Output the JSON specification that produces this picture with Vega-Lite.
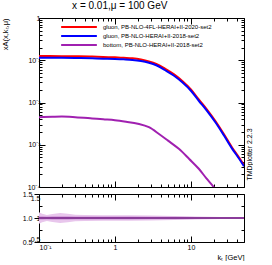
{
  "$schema": "https://vega.github.io/schema/vega-lite/v6.json",
  "padding": {"left": 0, "top": 0, "right": 0, "bottom": 0},
  "background": "white",
  "title": {"text": "x = 0.01,μ = 100 GeV", "font": "Liberation Sans", "fontSize": 10, "fontWeight": "normal", "anchor": "middle", "offset": 3, "dx": -7, "color": "black"},
  "config": {
    "font": "Liberation Sans",
    "view": {"stroke": "black", "strokeWidth": 1},
    "axis": {"domain": false, "grid": false, "tickColor": "black", "labelColor": "black", "labelFont": "Liberation Sans", "labelFontSize": 7, "titleFont": "Liberation Sans", "titleFontWeight": "normal", "titleColor": "black", "titleFontSize": 7.5}
  },
  "datasets": {
    "curves": [
      {"s": "gluon, PB-NLO-4FL-HERAI+II-2020-set2", "k": 0.1, "v": 0.126},
      {"s": "gluon, PB-NLO-4FL-HERAI+II-2020-set2", "k": 0.2, "v": 0.125},
      {"s": "gluon, PB-NLO-4FL-HERAI+II-2020-set2", "k": 0.3, "v": 0.124},
      {"s": "gluon, PB-NLO-4FL-HERAI+II-2020-set2", "k": 0.5, "v": 0.122},
      {"s": "gluon, PB-NLO-4FL-HERAI+II-2020-set2", "k": 0.7, "v": 0.119},
      {"s": "gluon, PB-NLO-4FL-HERAI+II-2020-set2", "k": 1.0, "v": 0.117},
      {"s": "gluon, PB-NLO-4FL-HERAI+II-2020-set2", "k": 1.3, "v": 0.114},
      {"s": "gluon, PB-NLO-4FL-HERAI+II-2020-set2", "k": 1.7, "v": 0.111},
      {"s": "gluon, PB-NLO-4FL-HERAI+II-2020-set2", "k": 2.2, "v": 0.104},
      {"s": "gluon, PB-NLO-4FL-HERAI+II-2020-set2", "k": 2.8, "v": 0.094},
      {"s": "gluon, PB-NLO-4FL-HERAI+II-2020-set2", "k": 3.5, "v": 0.082},
      {"s": "gluon, PB-NLO-4FL-HERAI+II-2020-set2", "k": 4.6, "v": 0.0625},
      {"s": "gluon, PB-NLO-4FL-HERAI+II-2020-set2", "k": 6.0, "v": 0.0463},
      {"s": "gluon, PB-NLO-4FL-HERAI+II-2020-set2", "k": 7.7, "v": 0.0323},
      {"s": "gluon, PB-NLO-4FL-HERAI+II-2020-set2", "k": 10, "v": 0.0204},
      {"s": "gluon, PB-NLO-4FL-HERAI+II-2020-set2", "k": 12.7, "v": 0.0118},
      {"s": "gluon, PB-NLO-4FL-HERAI+II-2020-set2", "k": 16, "v": 0.0071},
      {"s": "gluon, PB-NLO-4FL-HERAI+II-2020-set2", "k": 21, "v": 0.00365},
      {"s": "gluon, PB-NLO-4FL-HERAI+II-2020-set2", "k": 27, "v": 0.00182},
      {"s": "gluon, PB-NLO-4FL-HERAI+II-2020-set2", "k": 35, "v": 0.00085},
      {"s": "gluon, PB-NLO-4FL-HERAI+II-2020-set2", "k": 42, "v": 0.00053},
      {"s": "gluon, PB-NLO-4FL-HERAI+II-2020-set2", "k": 50, "v": 0.00033},
      {"s": "gluon, PB-NLO-HERAI+II-2018-set2", "k": 0.1, "v": 0.115},
      {"s": "gluon, PB-NLO-HERAI+II-2018-set2", "k": 0.2, "v": 0.114},
      {"s": "gluon, PB-NLO-HERAI+II-2018-set2", "k": 0.3, "v": 0.113},
      {"s": "gluon, PB-NLO-HERAI+II-2018-set2", "k": 0.5, "v": 0.111},
      {"s": "gluon, PB-NLO-HERAI+II-2018-set2", "k": 0.7, "v": 0.109},
      {"s": "gluon, PB-NLO-HERAI+II-2018-set2", "k": 1.0, "v": 0.107},
      {"s": "gluon, PB-NLO-HERAI+II-2018-set2", "k": 1.3, "v": 0.105},
      {"s": "gluon, PB-NLO-HERAI+II-2018-set2", "k": 1.7, "v": 0.102},
      {"s": "gluon, PB-NLO-HERAI+II-2018-set2", "k": 2.2, "v": 0.096},
      {"s": "gluon, PB-NLO-HERAI+II-2018-set2", "k": 2.8, "v": 0.087},
      {"s": "gluon, PB-NLO-HERAI+II-2018-set2", "k": 3.5, "v": 0.076},
      {"s": "gluon, PB-NLO-HERAI+II-2018-set2", "k": 4.6, "v": 0.058},
      {"s": "gluon, PB-NLO-HERAI+II-2018-set2", "k": 6.0, "v": 0.043},
      {"s": "gluon, PB-NLO-HERAI+II-2018-set2", "k": 7.7, "v": 0.030},
      {"s": "gluon, PB-NLO-HERAI+II-2018-set2", "k": 10, "v": 0.019},
      {"s": "gluon, PB-NLO-HERAI+II-2018-set2", "k": 12.7, "v": 0.011},
      {"s": "gluon, PB-NLO-HERAI+II-2018-set2", "k": 16, "v": 0.0066},
      {"s": "gluon, PB-NLO-HERAI+II-2018-set2", "k": 21, "v": 0.0034},
      {"s": "gluon, PB-NLO-HERAI+II-2018-set2", "k": 27, "v": 0.0017},
      {"s": "gluon, PB-NLO-HERAI+II-2018-set2", "k": 35, "v": 0.0008},
      {"s": "gluon, PB-NLO-HERAI+II-2018-set2", "k": 42, "v": 0.0005},
      {"s": "gluon, PB-NLO-HERAI+II-2018-set2", "k": 50, "v": 0.00031},
      {"s": "bottom, PB-NLO-HERAI+II-2018-set2", "k": 0.1, "v": 0.0045},
      {"s": "bottom, PB-NLO-HERAI+II-2018-set2", "k": 0.15, "v": 0.0046},
      {"s": "bottom, PB-NLO-HERAI+II-2018-set2", "k": 0.2, "v": 0.00465},
      {"s": "bottom, PB-NLO-HERAI+II-2018-set2", "k": 0.3, "v": 0.0045},
      {"s": "bottom, PB-NLO-HERAI+II-2018-set2", "k": 0.5, "v": 0.0042},
      {"s": "bottom, PB-NLO-HERAI+II-2018-set2", "k": 0.7, "v": 0.004},
      {"s": "bottom, PB-NLO-HERAI+II-2018-set2", "k": 1.0, "v": 0.0038},
      {"s": "bottom, PB-NLO-HERAI+II-2018-set2", "k": 1.4, "v": 0.0035},
      {"s": "bottom, PB-NLO-HERAI+II-2018-set2", "k": 2.0, "v": 0.00315},
      {"s": "bottom, PB-NLO-HERAI+II-2018-set2", "k": 2.8, "v": 0.0026},
      {"s": "bottom, PB-NLO-HERAI+II-2018-set2", "k": 3.8, "v": 0.0018},
      {"s": "bottom, PB-NLO-HERAI+II-2018-set2", "k": 5.0, "v": 0.00125},
      {"s": "bottom, PB-NLO-HERAI+II-2018-set2", "k": 7.0, "v": 0.00079},
      {"s": "bottom, PB-NLO-HERAI+II-2018-set2", "k": 9.5, "v": 0.00046},
      {"s": "bottom, PB-NLO-HERAI+II-2018-set2", "k": 12.7, "v": 0.00027},
      {"s": "bottom, PB-NLO-HERAI+II-2018-set2", "k": 16, "v": 0.00016},
      {"s": "bottom, PB-NLO-HERAI+II-2018-set2", "k": 19.5, "v": 0.000105},
      {"s": "bottom, PB-NLO-HERAI+II-2018-set2", "k": 23, "v": 0.00007}
    ],
    "band": [
      {"k": 0.1, "lo": 0.88, "hi": 1.12, "lo2": 0.965, "hi2": 1.035},
      {"k": 0.11, "lo": 0.91, "hi": 1.09, "lo2": 0.965, "hi2": 1.035},
      {"k": 0.127, "lo": 0.935, "hi": 1.065, "lo2": 0.967, "hi2": 1.033},
      {"k": 0.15, "lo": 0.915, "hi": 1.085, "lo2": 0.965, "hi2": 1.035},
      {"k": 0.19, "lo": 0.895, "hi": 1.105, "lo2": 0.963, "hi2": 1.037},
      {"k": 0.24, "lo": 0.91, "hi": 1.09, "lo2": 0.965, "hi2": 1.035},
      {"k": 0.3, "lo": 0.93, "hi": 1.07, "lo2": 0.967, "hi2": 1.033},
      {"k": 0.4, "lo": 0.94, "hi": 1.06, "lo2": 0.968, "hi2": 1.032},
      {"k": 0.7, "lo": 0.943, "hi": 1.057, "lo2": 0.969, "hi2": 1.031},
      {"k": 1.5, "lo": 0.945, "hi": 1.055, "lo2": 0.97, "hi2": 1.03},
      {"k": 3, "lo": 0.95, "hi": 1.05, "lo2": 0.972, "hi2": 1.028},
      {"k": 6, "lo": 0.96, "hi": 1.04, "lo2": 0.976, "hi2": 1.024},
      {"k": 12, "lo": 0.97, "hi": 1.03, "lo2": 0.981, "hi2": 1.019},
      {"k": 25, "lo": 0.978, "hi": 1.022, "lo2": 0.986, "hi2": 1.014},
      {"k": 50, "lo": 0.983, "hi": 1.017, "lo2": 0.989, "hi2": 1.011}
    ]
  },
  "vconcat": [
    {
      "width": 205,
      "height": 169,
      "data": {"name": "curves"},
      "resolve": {"axis": {"x": "independent", "y": "independent"}},
      "layer": [
        {
          "mark": {"type": "line", "clip": true, "interpolate": "monotone"},
          "encoding": {
            "x": {"field": "k", "type": "quantitative", "scale": {"type": "log", "domain": [0.1, 50], "nice": false},
              "axis": {"orient": "bottom", "title": null, "labels": false, "values": [0.1,0.2,0.3,0.4,0.5,0.6,0.7,0.8,0.9,1,2,3,4,5,6,7,8,9,10,20,30,40,50],
                "tickSize": {"condition": {"test": "indexof([0.1,1,10], datum.value) >= 0", "value": -6}, "value": -3}}},
            "y": {"field": "v", "type": "quantitative", "scale": {"type": "log", "domain": [0.0001, 1], "nice": false},
              "axis": {"orient": "left", "title": "xA(x,kₜ,μ)", "titleAnchor": "end", "titlePadding": 6, "minExtent": 24, "maxExtent": 24,
                "values": [0.0001,0.0002,0.0003,0.0004,0.0005,0.0006,0.0007,0.0008,0.0009,0.001,0.002,0.003,0.004,0.005,0.006,0.007,0.008,0.009,0.01,0.02,0.03,0.04,0.05,0.06,0.07,0.08,0.09,0.1,0.2,0.3,0.4,0.5,0.6,0.7,0.8,0.9,1],
                "labelExpr": "datum.value==1?'1':datum.value==0.1?'10⁻¹':datum.value==0.01?'10⁻²':datum.value==0.001?'10⁻³':datum.value==0.0001?'10⁻⁴':''",
                "labelPadding": 5,
                "tickSize": {"condition": {"test": "indexof([1,0.1,0.01,0.001,0.0001], datum.value) >= 0", "value": -6}, "value": -3}}},
            "color": {"field": "s", "type": "nominal",
              "scale": {"domain": ["gluon, PB-NLO-4FL-HERAI+II-2020-set2", "gluon, PB-NLO-HERAI+II-2018-set2", "bottom, PB-NLO-HERAI+II-2018-set2"], "range": ["#ff0000", "#0000ff", "#a020b0"]},
              "legend": {"orient": "none", "legendX": 35, "legendY": 4, "title": null, "symbolType": "M-5,0H5", "symbolSize": 51, "symbolStrokeWidth": 2.5, "labelFontSize": 6, "labelFont": "Liberation Sans", "labelColor": "black", "rowPadding": -3, "padding": 0, "labelLimit": 300, "labelOffset": 19}},
            "strokeWidth": {"field": "s", "type": "nominal", "scale": {"domain": ["gluon, PB-NLO-4FL-HERAI+II-2020-set2", "gluon, PB-NLO-HERAI+II-2018-set2", "bottom, PB-NLO-HERAI+II-2018-set2"], "range": [2, 2, 1.4]}, "legend": null}
          }
        },
        {
          "mark": {"type": "line", "strokeOpacity": 0},
          "encoding": {
            "x": {"field": "k", "type": "quantitative",
              "axis": {"orient": "top", "title": null, "labels": false, "values": [0.1,0.2,0.3,0.4,0.5,0.6,0.7,0.8,0.9,1,2,3,4,5,6,7,8,9,10,20,30,40,50],
                "tickSize": {"condition": {"test": "indexof([0.1,1,10], datum.value) >= 0", "value": -6}, "value": -3}}},
            "y": {"field": "v", "type": "quantitative",
              "axis": {"orient": "right", "title": "TMDplotter 2.2.3", "titleAngle": 270, "titleAnchor": "middle", "titleAlign": "center", "titleY": 136, "titlePadding": 8, "titleFontSize": 7, "labels": false,
                "values": [0.0001,0.0002,0.0003,0.0004,0.0005,0.0006,0.0007,0.0008,0.0009,0.001,0.002,0.003,0.004,0.005,0.006,0.007,0.008,0.009,0.01,0.02,0.03,0.04,0.05,0.06,0.07,0.08,0.09,0.1,0.2,0.3,0.4,0.5,0.6,0.7,0.8,0.9,1],
                "tickSize": {"condition": {"test": "indexof([1,0.1,0.01,0.001,0.0001], datum.value) >= 0", "value": -6}, "value": -3}}},
            "detail": {"field": "s"}
          }
        }
      ]
    },
    {
      "width": 205,
      "height": 48,
      "data": {"name": "band"},
      "resolve": {"axis": {"x": "independent", "y": "independent"}},
      "layer": [
        {
          "mark": {"type": "area", "color": "#e8c6ec", "clip": true},
          "encoding": {
            "x": {"field": "k", "type": "quantitative", "scale": {"type": "log", "domain": [0.1, 50], "nice": false},
              "axis": {"orient": "bottom", "title": "kₜ [GeV]", "titleAnchor": "end", "titlePadding": 3, "values": [0.1,0.2,0.3,0.4,0.5,0.6,0.7,0.8,0.9,1,2,3,4,5,6,7,8,9,10,20,30,40,50],
                "labelExpr": "datum.value==0.1?'10⁻¹':datum.value==1?'1':datum.value==10?'10':''", "labelPadding": 7,
                "tickSize": {"condition": {"test": "indexof([0.1,1,10], datum.value) >= 0", "value": -6}, "value": -3}}},
            "y": {"field": "lo", "type": "quantitative", "scale": {"domain": [0.5, 1.5], "nice": false},
              "axis": {"orient": "left", "title": null, "minExtent": 24, "maxExtent": 24, "values": [0.5,0.75,1,1.25,1.5], "labelExpr": "datum.value==0.5?'0.5':datum.value==1?'1':datum.value==1.5?'1.5':''", "labelPadding": 5, "labelFlush": true,
                "tickSize": {"condition": {"test": "indexof([0.5,1,1.5], datum.value) >= 0", "value": -6}, "value": -3}}},
            "y2": {"field": "hi"}
          }
        },
        {
          "mark": {"type": "area", "color": "#cf98d8", "clip": true},
          "encoding": {
            "x": {"field": "k", "type": "quantitative",
              "axis": {"orient": "top", "title": null, "labels": false, "values": [0.1,0.2,0.3,0.4,0.5,0.6,0.7,0.8,0.9,1,2,3,4,5,6,7,8,9,10,20,30,40,50],
                "tickSize": {"condition": {"test": "indexof([0.1,1,10], datum.value) >= 0", "value": -6}, "value": -3}}},
            "y": {"field": "lo2", "type": "quantitative",
              "axis": {"orient": "right", "title": null, "labels": false, "values": [0.5,0.75,1,1.25,1.5],
                "tickSize": {"condition": {"test": "indexof([0.5,1,1.5], datum.value) >= 0", "value": -6}, "value": -3}}},
            "y2": {"field": "hi2"}
          }
        },
        {
          "mark": {"type": "rule", "color": "#8a3c9a", "strokeWidth": 1},
          "encoding": {"y": {"datum": 1}}
        }
      ]
    }
  ],
  "spacing": 7,
  "bounds": "flush"
}
